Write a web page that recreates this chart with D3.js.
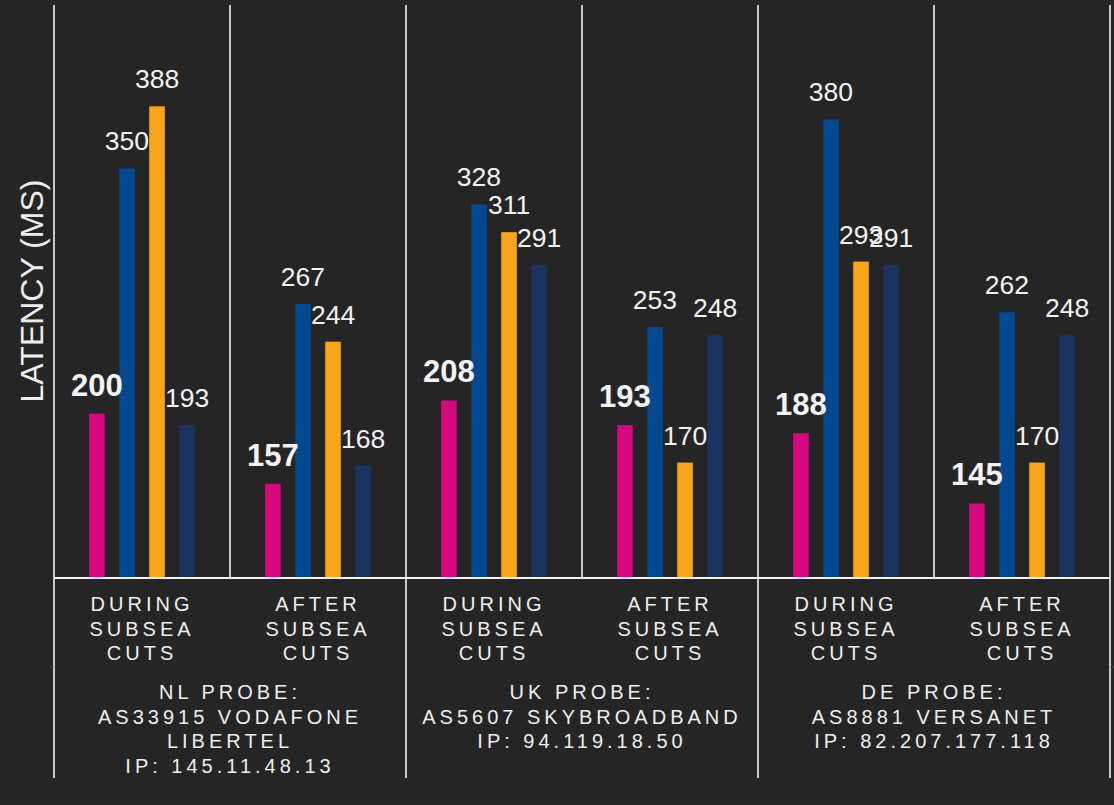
<!DOCTYPE html>
<html>
<head>
<meta charset="utf-8">
<script src="https://cdn.jsdelivr.net/npm/d3@7"></script>
<style>
    html, body { margin: 0; padding: 0; background: #252525; }
    svg { display: block; font-family: "Liberation Sans", Arial, Helvetica, sans-serif; }
</style>
</head>
<body>
<div id="chart"></div>
<script>
// groups along the x axis (period within each probe)
const periods = ['DURING SUBSEA CUTS', 'AFTER SUBSEA CUTS'];
const probes = [
    ['NL PROBE:', 'AS33915 VODAFONE', 'LIBERTEL', 'IP: 145.11.48.13'],
    ['UK PROBE:', 'AS5607 SKYBROADBAND', 'IP: 94.119.18.50'],
    ['DE PROBE:', 'AS8881 VERSANET', 'IP: 82.207.177.118']
];

// four measurement series, one value per group (NL during, NL after, UK during, ...)
const seriesNames = ['s1', 's2', 's3', 's4'];
const s1 = [200, 157, 208, 193, 188, 145];
const s2 = [350, 267, 328, 253, 380, 262];
const s3 = [388, 244, 311, 170, 293, 170];
const s4 = [193, 168, 291, 248, 291, 248];
const seriesColors = ['#d6087f', '#03498f', '#f9a51b', '#1a3360'];

const yDomain = [100, 450];

const W = 1114, H = 805;
var margin = { top: 5, right: 4, bottom: 228, left: 54 };
var plotBottom = H - margin.bottom;

const svg = d3.select('#chart').append('svg')
    .attr('width', W)
    .attr('height', H);

svg.append('rect').attr('width', W).attr('height', H).attr('fill', '#252525');

const groups = probes.flatMap((p, i) => periods.map(per => ({ probe: i, period: per, key: i + '|' + per })));
const allSeries = [s1, s2, s3, s4];
const data = groups.map((g, gi) => ({
    ...g,
    values: seriesNames.map((s, si) => ({ series: s, idx: si, value: allSeries[si][gi] }))
}));

const x0 = d3.scaleBand()
    .domain(groups.map(g => g.key))
    .range([margin.left, W - margin.right])
    .padding(0);

const x1 = d3.scaleBand()
    .domain(seriesNames)
    .range([0, x0.bandwidth()])
    .paddingInner(0.48)
    .paddingOuter(1.17);

const y = d3.scaleLinear()
    .domain(yDomain)
    .range([plotBottom, margin.top]);

const color = d3.scaleOrdinal(seriesNames, seriesColors);

// bars
const g = svg.append('g')
    .selectAll('g')
    .data(data)
    .join('g')
    .attr('transform', d => `translate(${x0(d.key)},0)`);

g.selectAll('rect')
    .data(d => d.values)
    .join('rect')
    .attr('x', d => x1(d.series))
    .attr('y', d => y(d.value))
    .attr('width', x1.bandwidth())
    .attr('height', d => y(yDomain[0]) - y(d.value))
    .attr('fill', d => color(d.series));

// value labels
g.selectAll('text')
    .data(d => d.values)
    .join('text')
    .attr('x', d => x1(d.series) + x1.bandwidth() / 2)
    .attr('y', d => y(d.value) - 18)
    .attr('text-anchor', 'middle')
    .attr('fill', '#f2f2f2')
    .attr('font-size', d => d.idx === 0 ? 31 : 26.5)
    .attr('font-weight', d => d.idx === 0 ? 'bold' : 'normal')
    .text(d => d.value);

// grid lines
const lines = svg.append('g').attr('stroke', '#f4f4f4').attr('stroke-width', 1.6);
const edges = x0.domain().map(k => x0(k)).concat([W - margin.right]);
lines.selectAll('line.v')
    .data(edges)
    .join('line')
    .attr('x1', d => d).attr('x2', d => d)
    .attr('y1', margin.top)
    .attr('y2', (d, i) => i % 2 === 0 ? 778 : plotBottom);

lines.append('line')
    .attr('x1', margin.left).attr('x2', W - margin.right)
    .attr('y1', plotBottom + 1).attr('y2', plotBottom + 1)
    .attr('stroke-width', 2);

// faint outer ticks between the two label rows
svg.append('g').attr('stroke', '#555').attr('stroke-width', 1)
    .selectAll('line')
    .data([[margin.left - 4, margin.left], [W - margin.right, W]])
    .join('line')
    .attr('x1', d => d[0]).attr('x2', d => d[1])
    .attr('y1', 667).attr('y2', 667);

// period labels
const labelStyle = sel => sel
    .attr('text-anchor', 'middle')
    .attr('fill', '#eeeeee')
    .attr('font-size', 20)
    .attr('letter-spacing', 4);

svg.append('g')
    .selectAll('text')
    .data(groups)
    .join('text')
    .call(labelStyle)
    .attr('transform', d => `translate(${x0(d.key) + x0.bandwidth() / 2},611)`)
    .selectAll('tspan')
    .data(d => d.period.split(' '))
    .join('tspan')
    .attr('x', 0)
    .attr('y', (d, i) => i * 24.5)
    .text(d => d);

// probe labels
svg.append('g')
    .selectAll('text')
    .data(probes)
    .join('text')
    .call(labelStyle)
    .attr('transform', (d, i) => `translate(${x0(i + '|' + periods[0]) + x0.bandwidth()},699)`)
    .selectAll('tspan')
    .data(d => d)
    .join('tspan')
    .attr('x', 0)
    .attr('y', (d, i) => i * 24.5)
    .text(d => d);

// y axis title
svg.append('text')
    .attr('transform', `translate(43,${(margin.top + plotBottom) / 2}) rotate(-90)`)
    .attr('text-anchor', 'middle')
    .attr('fill', '#eeeeee')
    .attr('font-size', 32)
    .text('LATENCY (MS)');
</script>
</body>
</html>
